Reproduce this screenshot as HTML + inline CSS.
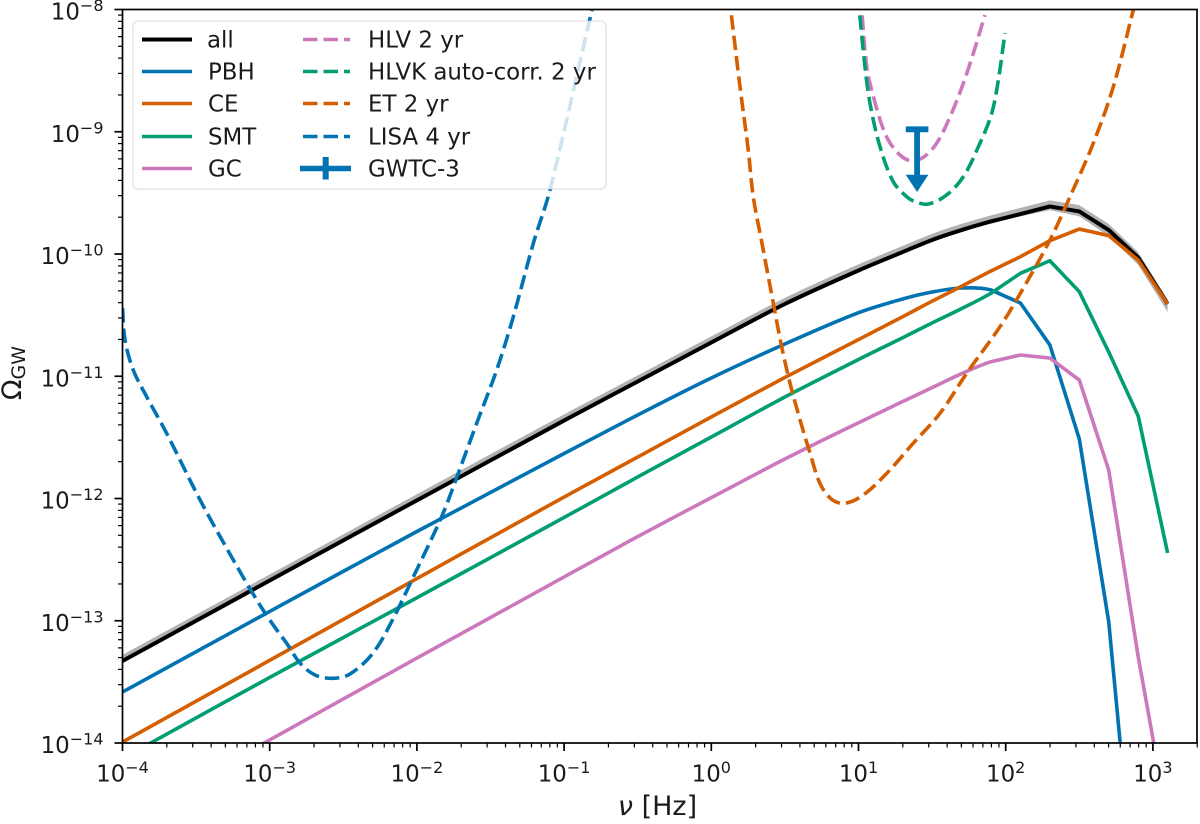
<!DOCTYPE html>
<html lang="en">
<head>
<meta charset="utf-8">
<title>Gravitational wave background spectrum</title>
<style>
html,body{margin:0;padding:0;background:#fff;overflow:hidden;}
svg{display:block;font-family:"DejaVu Sans","Liberation Sans",sans-serif;fill:#1a1a1a;}
.leg{font-size:22.9px;fill:#1a1a1a;}
</style>
</head>
<body>
<svg id="chart" xmlns="http://www.w3.org/2000/svg" width="1200" height="824" viewBox="0 0 1200 824">
  <defs>
    <clipPath id="plot-clip"><rect x="122.5" y="9.5" width="1074.5" height="733.5"/></clipPath>
  </defs>
  <rect x="0" y="0" width="1200" height="824" fill="#fff"/>
  <g id="marks" clip-path="url(#plot-clip)"></g>
  <g id="axes"></g>

  <g>
    <rect x="133" y="21" width="473" height="168" rx="5" ry="5" fill="#fff" fill-opacity="0.8" stroke="#ccc" stroke-opacity="0.5" stroke-width="1.5"/>
    <g>
      <line x1="142" y1="39.5" x2="192" y2="39.5" stroke="#000" stroke-width="4"/>
      <text class="leg" x="207" y="47.5">all</text>
    </g>
    <g>
      <line x1="142" y1="71.5" x2="192" y2="71.5" stroke="#0173b2" stroke-width="3.6"/>
      <text class="leg" x="208" y="79.5">PBH</text>
    </g>
    <g>
      <line x1="142" y1="103.5" x2="192" y2="103.5" stroke="#d55e00" stroke-width="3.6"/>
      <text class="leg" x="208" y="111.5">CE</text>
    </g>
    <g>
      <line x1="142" y1="136.5" x2="192" y2="136.5" stroke="#029e73" stroke-width="3.6"/>
      <text class="leg" x="208" y="144.5">SMT</text>
    </g>
    <g>
      <line x1="142" y1="168.5" x2="192" y2="168.5" stroke="#cc78bc" stroke-width="3.6"/>
      <text class="leg" x="208" y="176.5">GC</text>
    </g>
    <g>
      <line x1="303" y1="39.5" x2="350" y2="39.5" stroke="#cc78bc" stroke-width="3.6" stroke-dasharray="14.5 6"/>
      <text class="leg" x="368" y="47.5">HLV 2 yr</text>
    </g>
    <g>
      <line x1="303" y1="71.5" x2="350" y2="71.5" stroke="#029e73" stroke-width="3.6" stroke-dasharray="14.5 6"/>
      <text class="leg" x="368" y="79.5">HLVK auto-corr. 2 yr</text>
    </g>
    <g>
      <line x1="303" y1="103.5" x2="350" y2="103.5" stroke="#d55e00" stroke-width="3.6" stroke-dasharray="14.5 6"/>
      <text class="leg" x="368" y="111.5">ET 2 yr</text>
    </g>
    <g>
      <line x1="303" y1="136.5" x2="350" y2="136.5" stroke="#0173b2" stroke-width="3.6" stroke-dasharray="14.5 6"/>
      <text class="leg" x="368" y="144.5">LISA 4 yr</text>
    </g>
    <g>
      <line x1="300" y1="168.5" x2="351" y2="168.5" stroke="#0173b2" stroke-width="5.5"/>
      <line x1="325.7" y1="157" x2="325.7" y2="179.5" stroke="#0173b2" stroke-width="6"/>
      <text class="leg" x="368" y="176.5">GWTC-3</text>
    </g>
  </g>

  <text x="657.5" y="815" font-size="27" text-anchor="middle"><tspan font-style="italic">ν</tspan> [Hz]</text>
  <text transform="translate(21,373) rotate(-90)" font-size="27" text-anchor="middle">Ω<tspan font-size="19" dy="4">GW</tspan></text>
</svg>

<script>
// All values are log10 of the physical quantity (log10 Hz, log10 Omega_GW).
const modelFreq = [-4, -3, -2, -1, -0.5, 0, 0.5, 1, 1.3, 1.5, 1.7, 1.9, 2.1, 2.3, 2.5, 2.7, 2.9, 3.1];
const allValues = [-13.329, -12.671, -12.015, -11.362, -11.043, -10.724, -10.409, -10.135, -9.984, -9.885, -9.804, -9.734, -9.673, -9.611, -9.652, -9.804, -10.029, -10.409];
const allUpper = [-13.279, -12.621, -11.965, -11.312, -10.993, -10.674, -10.359, -10.085, -9.934, -9.835, -9.754, -9.684, -9.623, -9.561, -9.6, -9.755, -9.985, -10.37];
const allLower = [-13.341, -12.683, -12.027, -11.374, -11.055, -10.736, -10.421, -10.147, -9.996, -9.897, -9.818, -9.75, -9.692, -9.641, -9.692, -9.854, -10.089, -10.474];
const pbhFreq = [-4, -3, -2, -1, -0.5, 0, 0.5, 1, 1.3, 1.5, 1.7, 1.9, 2.1, 2.3, 2.5, 2.7, 2.79];
const pbhValues = [-13.583, -12.924, -12.27, -11.632, -11.317, -11.014, -10.736, -10.48, -10.368, -10.311, -10.278, -10.294, -10.401, -10.744, -11.513, -13.01, -14.155];
const ceValues = [-13.992, -13.324, -12.655, -11.988, -11.661, -11.333, -11.01, -10.7, -10.513, -10.386, -10.264, -10.139, -10.022, -9.891, -9.796, -9.85, -10.049, -10.409];
const smtValues = [-14.127, -13.464, -12.812, -12.155, -11.824, -11.497, -11.17, -10.863, -10.685, -10.564, -10.447, -10.321, -10.158, -10.055, -10.308, -10.802, -11.325, -12.446];
const gcValues = [-14.638, -13.975, -13.305, -12.642, -12.311, -11.993, -11.677, -11.38, -11.207, -11.093, -10.979, -10.881, -10.826, -10.851, -11.031, -11.767, -13.294, -14.63];

const hlvFreq = [1.014, 1.022, 1.056, 1.101, 1.18, 1.259, 1.35, 1.44, 1.531, 1.622, 1.712, 1.78, 1.859];
const hlvValues = [-7.881, -8.004, -8.468, -8.713, -9.013, -9.163, -9.237, -9.209, -9.094, -8.877, -8.604, -8.358, -8.045];
const hlvkFreq = [0.993, 1.005, 1.044, 1.078, 1.146, 1.236, 1.327, 1.384, 1.474, 1.599, 1.712, 1.825, 1.905, 1.95, 1.995];
const hlvkValues = [-7.881, -8.004, -8.468, -8.767, -9.122, -9.409, -9.531, -9.572, -9.591, -9.517, -9.368, -9.094, -8.849, -8.577, -8.192];
const etFreq = [0.12, 0.132, 0.195, 0.251, 0.285, 0.344, 0.412, 0.478, 0.535, 0.603, 0.671, 0.738, 0.818, 0.908, 1.033, 1.192, 1.372, 1.554, 1.735, 1.961, 2.097, 2.301, 2.437, 2.595, 2.731, 2.867, 2.892];
const etValues = [-7.881, -8.004, -8.632, -9.149, -9.531, -9.91, -10.344, -10.758, -11.058, -11.358, -11.63, -11.876, -12.007, -12.039, -11.971, -11.794, -11.548, -11.303, -10.976, -10.595, -10.327, -9.885, -9.531, -9.094, -8.632, -8.004, -7.881];
const lisaFreq = [-4, -3.983, -3.927, -3.836, -3.7, -3.473, -3.247, -3.088, -2.976, -2.885, -2.794, -2.692, -2.57, -2.455, -2.298, -2.16, -2.024, -1.832, -1.719, -1.594, -1.458, -1.345, -1.209, -1.096, -0.813, -0.77];
const lisaValues = [-10.442, -10.703, -10.949, -11.167, -11.467, -12.012, -12.503, -12.83, -13.035, -13.184, -13.346, -13.444, -13.471, -13.436, -13.264, -12.98, -12.64, -12.149, -11.794, -11.385, -10.949, -10.513, -9.912, -9.476, -8.018, -7.84];

const gwtcFreq = [1.398];
const gwtcUpper = [-8.98];
const gwtcArrowTip = [-9.493];

const xTickExponents = [-4, -3, -2, -1, 0, 1, 2, 3];
const yTickExponents = [-14, -13, -12, -11, -10, -9, -8];
const minorMultipliers = [2, 3, 4, 5, 6, 7, 8, 9];

const SVGNS = 'http://www.w3.org/2000/svg';
const marks = document.getElementById('marks');
const axes = document.getElementById('axes');

function xScale(logNu) { return 122.5 + (logNu + 4) * 147.2; }
function yScale(logOmega) { return 743 - (logOmega + 14) * 122.25; }

// Smooth through points whose frequency is at or below smoothLimit, straight segments above it.
function pathFrom(freq, values, smoothLimit) {
  const pts = freq.map(function (f, i) { return [xScale(f), yScale(values[i])]; });
  const n = pts.length;
  function dist(a, b) { return Math.hypot(b[0] - a[0], b[1] - a[1]) || 1; }
  function tangent(i) {
    const a = pts[Math.max(i - 1, 0)];
    const b = pts[Math.min(i + 1, n - 1)];
    const d = dist(a, b);
    return [(b[0] - a[0]) / d, (b[1] - a[1]) / d];
  }
  let d = 'M' + pts[0][0].toFixed(2) + ' ' + pts[0][1].toFixed(2);
  for (let i = 1; i < n; i++) {
    const p = pts[i - 1];
    const q = pts[i];
    if (Math.max(freq[i - 1], freq[i]) <= smoothLimit) {
      const len = dist(p, q) / 3;
      const t0 = tangent(i - 1);
      const t1 = tangent(i);
      d += ' C' + (p[0] + t0[0] * len).toFixed(2) + ' ' + (p[1] + t0[1] * len).toFixed(2) +
           ' ' + (q[0] - t1[0] * len).toFixed(2) + ' ' + (q[1] - t1[1] * len).toFixed(2) +
           ' ' + q[0].toFixed(2) + ' ' + q[1].toFixed(2);
    } else {
      d += ' L' + q[0].toFixed(2) + ' ' + q[1].toFixed(2);
    }
  }
  return d;
}

function drawCurve(name, freq, values, color, width, dashed) {
  const el = document.createElementNS(SVGNS, 'path');
  
  
  el.setAttribute('d', pathFrom(freq, values, dashed ? 99 : 2));
  el.setAttribute('fill', 'none');
  el.setAttribute('stroke', color);
  el.setAttribute('stroke-width', width);
  el.setAttribute('stroke-linejoin', 'round');
  if (dashed) { el.setAttribute('stroke-dasharray', '14.5 6'); }
  marks.appendChild(el);
}

function drawBand() {
  const upper = pathFrom(modelFreq, allUpper, 2);
  const lower = pathFrom(modelFreq.slice().reverse(), allLower.slice().reverse(), 2).replace('M', 'L');
  const el = document.createElementNS(SVGNS, 'path');
  
  
  el.setAttribute('d', upper + ' ' + lower + ' Z');
  el.setAttribute('fill', '#000');
  el.setAttribute('fill-opacity', '0.3');
  marks.appendChild(el);
}

function drawUpperLimit() {
  const g = document.createElementNS(SVGNS, 'g');
  
  
  gwtcFreq.forEach(function (f, i) {
    const x = xScale(f);
    const top = yScale(gwtcUpper[i]);
    const tip = yScale(gwtcArrowTip[i]);
    const stem = document.createElementNS(SVGNS, 'path');
    
    
    stem.setAttribute('d', 'M' + (x - 11.3) + ' ' + top + ' H' + (x + 11.3) + ' M' + x + ' ' + top + ' V' + (tip - 12));
    stem.setAttribute('fill', 'none');
    stem.setAttribute('stroke', '#0173b2');
    stem.setAttribute('stroke-width', '5.8');
    g.appendChild(stem);
    const head = document.createElementNS(SVGNS, 'path');
    
    
    head.setAttribute('d', 'M' + (x - 11.3) + ' ' + (tip - 17.3) + ' H' + (x + 11.3) + ' L' + x + ' ' + tip + ' Z');
    head.setAttribute('fill', '#0173b2');
    g.appendChild(head);
  });
  marks.appendChild(g);
}

function drawTick(name, x1, y1, x2, y2, width) {
  const el = document.createElementNS(SVGNS, 'line');
  
  
  el.setAttribute('x1', x1);
  el.setAttribute('y1', y1);
  el.setAttribute('x2', x2);
  el.setAttribute('y2', y2);
  el.setAttribute('stroke', '#000');
  el.setAttribute('stroke-width', width);
  axes.appendChild(el);
}

function drawPowerLabel(name, exponent, x, y, anchor) {
  const t = document.createElementNS(SVGNS, 'text');
  
  
  t.setAttribute('x', x);
  t.setAttribute('y', y);
  t.setAttribute('font-size', '22.9');
  t.setAttribute('text-anchor', anchor);
  const base = document.createElementNS(SVGNS, 'tspan');
  base.textContent = '10';
  t.appendChild(base);
  const sup = document.createElementNS(SVGNS, 'tspan');
  sup.setAttribute('font-size', '16');
  sup.setAttribute('dy', '-8.5');
  sup.textContent = String(exponent).replace('-', '\u2212');
  t.appendChild(sup);
  axes.appendChild(t);
}

function drawAxes() {
  xTickExponents.forEach(function (e) {
    const x = xScale(e);
    drawTick('x-major-tick', x, 743, x, 751, 1.7);
    drawPowerLabel('x-tick-label', e, x, 781.5, 'middle');
    minorMultipliers.forEach(function (m) {
      const mx = xScale(e + Math.log10(m));
      if (mx <= 1197.5) {
        drawTick('x-minor-tick', mx, 743, mx, 747.5, 1.2);
      }
    });
  });
  yTickExponents.forEach(function (e) {
    const y = yScale(e);
    drawTick('y-major-tick', 122.5, y, 114.5, y, 1.7);
    drawPowerLabel('y-tick-label', e, 103.5, y + 10, 'end');
    if (e < -8) {
      minorMultipliers.forEach(function (m) {
        const my = yScale(e + Math.log10(m));
        drawTick('y-minor-tick', 122.5, my, 118, my, 1.2);
      });
    }
  });
  const frame = document.createElementNS(SVGNS, 'rect');
  
  
  frame.setAttribute('x', 122.5);
  frame.setAttribute('y', 9.5);
  frame.setAttribute('width', 1074.5);
  frame.setAttribute('height', 733.5);
  frame.setAttribute('fill', 'none');
  frame.setAttribute('stroke', '#000');
  frame.setAttribute('stroke-width', 1.7);
  axes.appendChild(frame);
}

drawBand();
drawCurve('line-all', modelFreq, allValues, '#000', 4);
drawCurve('line-pbh', pbhFreq, pbhValues, '#0173b2', 3.6);
drawCurve('line-ce', modelFreq, ceValues, '#d55e00', 3.6);
drawCurve('line-smt', modelFreq, smtValues, '#029e73', 3.6);
drawCurve('line-gc', modelFreq, gcValues, '#cc78bc', 3.6);
drawCurve('sensitivity-hlv', hlvFreq, hlvValues, '#cc78bc', 3.6, true);
drawCurve('sensitivity-hlvk', hlvkFreq, hlvkValues, '#029e73', 3.6, true);
drawCurve('sensitivity-et', etFreq, etValues, '#d55e00', 3.6, true);
drawCurve('sensitivity-lisa', lisaFreq, lisaValues, '#0173b2', 3.6, true);
drawUpperLimit();
drawAxes();
</script>
</body>
</html>
